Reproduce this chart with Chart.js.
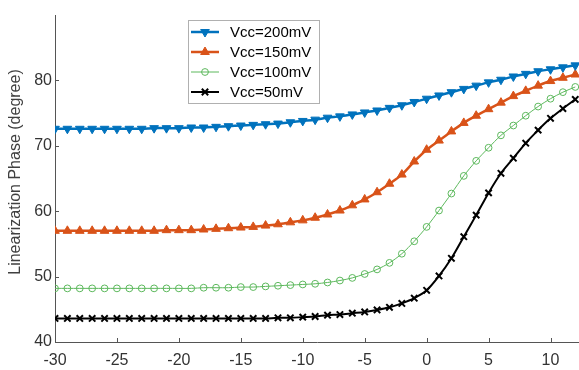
<!DOCTYPE html>
<html>
<head>
<meta charset="utf-8">
<script src="https://cdn.jsdelivr.net/npm/chart.js@4/dist/chart.umd.min.js"></script>
<style>
    html, body { margin: 0; padding: 0; background: #fff; }
    #wrap { width: 579px; height: 370px; }
</style>
</head>
<body>
<div id="wrap"><canvas id="phase-chart" width="579" height="370"></canvas></div>
<script>
// Input (x axis) values
const xValues = [-30, -29, -28, -27, -26, -25, -24, -23, -22, -21, -20, -19, -18, -17, -16, -15,
    -14, -13, -12, -11, -10, -9, -8, -7, -6, -5, -4, -3, -2, -1, 0, 1, 2, 3, 4, 5, 6, 7, 8, 9, 10, 11, 12];

// Linearization phase (degree) per supply voltage
const vcc200 = [72.6, 72.6, 72.6, 72.6, 72.6, 72.6, 72.6, 72.6, 72.7, 72.7, 72.7, 72.8, 72.8, 72.9, 73.0, 73.1,
    73.2, 73.3, 73.4, 73.6, 73.8, 74.0, 74.3, 74.5, 74.8, 75.1, 75.4, 75.8, 76.2, 76.7, 77.2, 77.7, 78.2, 78.7,
    79.2, 79.7, 80.1, 80.6, 81.0, 81.4, 81.7, 82.0, 82.3];
const vcc150 = [57.0, 57.0, 57.0, 57.0, 57.0, 57.0, 57.0, 57.0, 57.0, 57.1, 57.1, 57.1, 57.2, 57.3, 57.4, 57.5,
    57.6, 57.8, 58.0, 58.3, 58.6, 59.0, 59.5, 60.1, 60.9, 61.8, 62.9, 64.2, 65.6, 67.6, 69.4, 70.8, 72.2, 73.5,
    74.6, 75.6, 76.6, 77.6, 78.4, 79.2, 79.9, 80.4, 80.9];
const vcc100 = [48.2, 48.2, 48.2, 48.2, 48.2, 48.2, 48.2, 48.2, 48.2, 48.2, 48.2, 48.2, 48.3, 48.3, 48.3, 48.4,
    48.4, 48.5, 48.6, 48.7, 48.8, 48.9, 49.1, 49.4, 49.8, 50.4, 51.1, 52.1, 53.5, 55.4, 57.6, 60.1, 62.7, 65.4,
    67.7, 69.7, 71.6, 73.1, 74.6, 76.0, 77.2, 78.2, 79.0];
const vcc50 = [43.6, 43.6, 43.6, 43.6, 43.6, 43.6, 43.6, 43.6, 43.6, 43.6, 43.6, 43.6, 43.6, 43.6, 43.6, 43.6,
    43.6, 43.6, 43.7, 43.7, 43.8, 43.9, 44.1, 44.2, 44.4, 44.6, 44.9, 45.3, 45.9, 46.7, 47.9, 50.1, 52.8, 56.1,
    59.4, 62.8, 65.8, 68.1, 70.4, 72.4, 74.2, 75.7, 77.1];

const seriesLabels = ['Vcc=200mV', 'Vcc=150mV', 'Vcc=100mV', 'Vcc=50mV'];

// Tick labels
const xTicks = [-30, -25, -20, -15, -10, -5, 0, 5, 10];
const yTicks = [40, 50, 60, 70, 80];
const yTitle = 'Linearization Phase (degree)';

const FONT = '"Liberation Sans", Arial, sans-serif';
const AXIS_COLOR = '#555555';

function toPoints(ys) {
    return xValues.map((x, i) => ({ x: x, y: ys[i] }));
}

const datasets = [
    {
        label: seriesLabels[0], data: toPoints(vcc200),
        borderColor: '#0072BD', backgroundColor: '#0072BD', borderWidth: 2.5,
        pointStyle: 'triangle', rotation: 180, pointRadius: 5, pointBorderWidth: 1
    },
    {
        label: seriesLabels[1], data: toPoints(vcc150),
        borderColor: '#D95319', backgroundColor: '#D95319', borderWidth: 2.5,
        pointStyle: 'triangle', rotation: 0, pointRadius: 5, pointBorderWidth: 1
    },
    {
        label: seriesLabels[2], data: toPoints(vcc100),
        borderColor: '#5CB85C', backgroundColor: 'rgba(255,255,255,0)', borderWidth: 1,
        pointStyle: 'circle', pointRadius: 3.4, pointBorderWidth: 1
    },
    {
        label: seriesLabels[3], data: toPoints(vcc50),
        borderColor: '#000000', backgroundColor: '#000000', borderWidth: 2,
        pointStyle: 'crossRot', pointRadius: 4.5, pointBorderWidth: 2
    }
];

// Inward tick marks (MATLAB style) + y axis title
const innerTicks = {
    id: 'innerTicks',
    afterDraw(chart) {
        const c = chart.ctx;
        const area = chart.chartArea;
        const xs = chart.scales.x, ys = chart.scales.y;
        c.save();
        c.strokeStyle = AXIS_COLOR;
        c.lineWidth = 1;
        c.beginPath();
        xTicks.forEach(v => {
            const px = Math.round(xs.getPixelForValue(v)) + 0.5;
            c.moveTo(px, area.bottom);
            c.lineTo(px, area.bottom - 4);
        });
        yTicks.forEach(v => {
            const py = Math.round(ys.getPixelForValue(v)) + 0.5;
            c.moveTo(area.left, py);
            c.lineTo(area.left + 4, py);
        });
        c.stroke();

        c.translate(16, 172);
        c.rotate(-Math.PI / 2);
        c.font = '16px ' + FONT;
        c.fillStyle = '#404040';
        c.textAlign = 'center';
        c.textBaseline = 'middle';
        c.fillText(yTitle, 0, 0);
        c.restore();
    }
};

// Legend box with line + marker samples
const boxLegend = {
    id: 'boxLegend',
    afterDraw(chart) {
        const c = chart.ctx;
        const left = 188, top = 20, w = 131, h = 83;
        c.save();
        c.fillStyle = '#ffffff';
        c.fillRect(left, top, w, h);
        c.strokeStyle = '#b0b0b0';
        c.lineWidth = 1;
        c.strokeRect(left + 0.5, top + 0.5, w, h);
        c.font = '15px ' + FONT;
        c.textBaseline = 'middle';
        c.textAlign = 'left';
        datasets.forEach((ds, i) => {
            const y = 32 + i * 20;
            c.strokeStyle = ds.borderColor;
            c.lineWidth = ds.borderWidth;
            c.beginPath();
            c.moveTo(191, y);
            c.lineTo(219, y);
            c.stroke();
            c.fillStyle = ds.backgroundColor;
            c.strokeStyle = ds.borderColor;
            c.lineWidth = ds.pointBorderWidth;
            Chart.helpers.drawPoint(c, {
                pointStyle: ds.pointStyle, rotation: ds.rotation || 0,
                radius: ds.pointRadius, borderWidth: ds.pointBorderWidth
            }, 205, y);
            c.fillStyle = '#000000';
            c.fillText(ds.label, 230, y + 1);
        });
        c.restore();
    }
};

const ctx = document.getElementById('phase-chart');
new Chart(ctx, {
    type: 'line',
    data: { datasets: datasets },
    options: {
        responsive: false,
        animation: false,
        devicePixelRatio: 1,
        // no auto padding for point overflow: the plot runs to the right edge
        layout: { autoPadding: false, padding: { top: 15, right: 0, left: 0, bottom: 0 } },
        plugins: {
            legend: { display: false },
            tooltip: { enabled: false }
        },
        elements: { line: { tension: 0.3 } },
        scales: {
            x: {
                type: 'linear',
                min: -30,
                max: 12.3,
                grid: { display: false, drawTicks: false },
                border: { display: true, color: AXIS_COLOR, width: 1 },
                afterBuildTicks: scale => { scale.ticks = xTicks.map(v => ({ value: v })); },
                afterFit: scale => {
                    scale.height = 28;
                    scale.paddingLeft = 0;
                    scale.paddingRight = 0;
                },
                ticks: {
                    padding: 9,
                    color: '#333333',
                    font: { family: FONT, size: 16 },
                    maxRotation: 0
                }
            },
            y: {
                type: 'linear',
                min: 40,
                max: 90,
                grid: { display: false, drawTicks: false },
                border: { display: true, color: AXIS_COLOR, width: 1 },
                afterBuildTicks: scale => { scale.ticks = yTicks.map(v => ({ value: v })); },
                afterFit: scale => {
                    scale.width = 55;
                    scale.paddingTop = 0;
                    scale.paddingBottom = 0;
                },
                ticks: {
                    padding: 3,
                    color: '#333333',
                    font: { family: FONT, size: 16 }
                }
            }
        }
    },
    plugins: [innerTicks, boxLegend]
});
</script>
</body>
</html>
